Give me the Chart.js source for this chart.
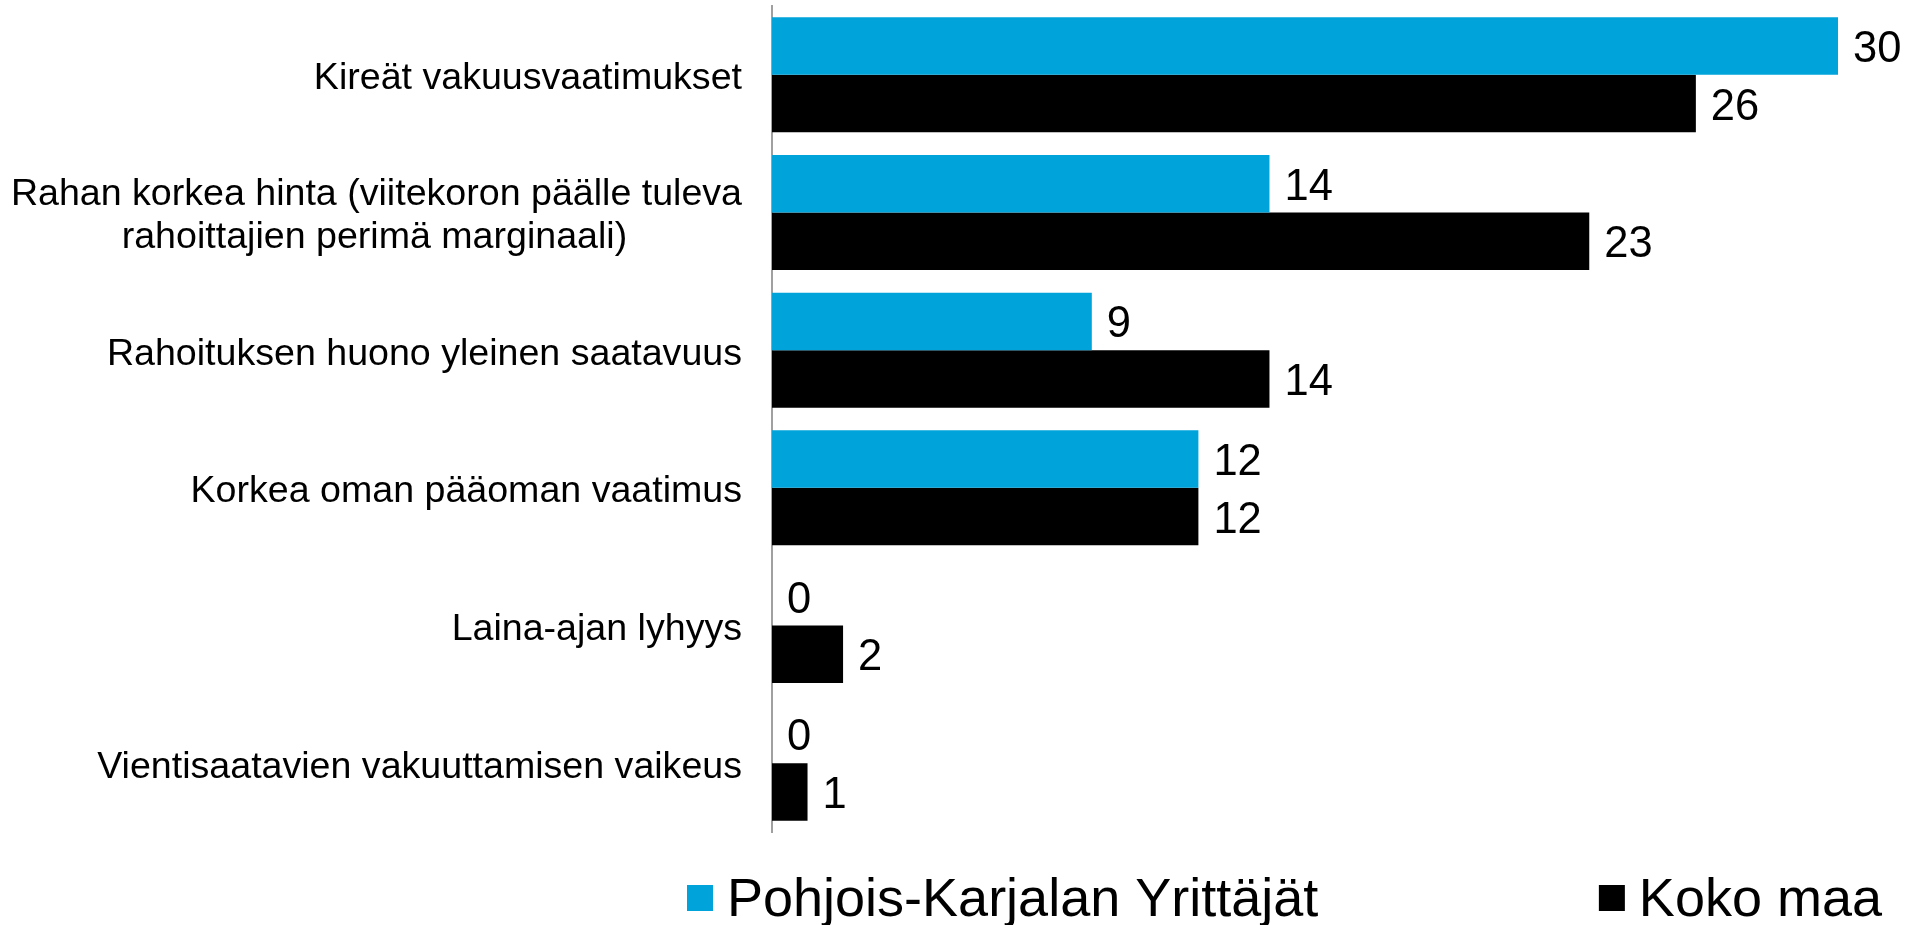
<!DOCTYPE html>
<html>
<head>
<meta charset="utf-8">
<script src="https://cdn.jsdelivr.net/npm/chart.js@4/dist/chart.umd.min.js"></script>
<style>
    html, body { margin: 0; padding: 0; background: #fff; }
    #wrap { width: 1908px; height: 925px; position: relative; }
</style>
</head>
<body>
<div id="wrap"><canvas id="obstacleChart"></canvas></div>
<script>
const categories = [
    'Kireät vakuusvaatimukset',
    ['Rahan korkea hinta (viitekoron päälle tuleva', 'rahoittajien perimä marginaali)'],
    'Rahoituksen huono yleinen saatavuus',
    'Korkea oman pääoman vaatimus',
    'Laina-ajan lyhyys',
    'Vientisaatavien vakuuttamisen vaikeus'
];
const seriesNames = ['Pohjois-Karjalan Yrittäjät', 'Koko maa'];
const pohjoisKarjala = [30, 14, 9, 12, 0, 0];
const kokoMaa = [26, 23, 14, 12, 2, 1];
const seriesColors = ['#00A3DA', '#000000'];

const FONT = '"Liberation Sans", Arial, sans-serif';
const LABEL_SIZE = 37.6;

// center the shorter line of a two-line label under the longer one (ticks are right-aligned)
const measureCtx = document.createElement('canvas').getContext('2d');
function centerLines(label) {
    if (!Array.isArray(label)) return label;
    measureCtx.font = LABEL_SIZE + 'px ' + FONT;
    let widths = label.map(l => measureCtx.measureText(l).width);
    let maxW = Math.max(...widths);
    let spaceW = measureCtx.measureText(' ').width;
    return label.map((l, i) => l + ' '.repeat(Math.round((maxW - widths[i]) / 2 / spaceW)));
}

const valueLabels = {
    id: 'valueLabels',
    afterDatasetsDraw(chart) {
        let ctx = chart.ctx;
        ctx.save();
        ctx.font = '43.5px ' + FONT;
        ctx.fillStyle = '#000';
        ctx.textAlign = 'left';
        ctx.textBaseline = 'middle';
        chart.data.datasets.forEach((ds, di) => {
            chart.getDatasetMeta(di).data.forEach((bar, i) => {
                ctx.fillText(String(ds.data[i]), bar.x + 15, bar.y + 4);
            });
        });
        ctx.restore();
    }
};

const spreadLegend = {
    id: 'spreadLegend',
    afterDraw(chart) {
        let ctx = chart.ctx;
        let ds = chart.data.datasets;
        ctx.save();
        ctx.font = '54px ' + FONT;
        ctx.textBaseline = 'middle';
        ctx.textAlign = 'left';
        let midY = 898;
        // first item from the left, second right-aligned
        ctx.fillStyle = ds[0].backgroundColor;
        ctx.fillRect(687, midY - 13, 26, 26);
        ctx.fillStyle = '#000';
        ctx.fillText(ds[0].label, 727, midY + 3);

        let w2 = ctx.measureText(ds[1].label).width;
        let x2 = 1882 - w2;
        ctx.fillStyle = ds[1].backgroundColor;
        ctx.fillRect(x2 - 40, midY - 13, 26, 26);
        ctx.fillStyle = '#000';
        ctx.fillText(ds[1].label, x2, midY + 3);
        ctx.restore();
    }
};

new Chart(document.getElementById('obstacleChart'), {
    type: 'bar',
    data: {
        labels: categories,
        datasets: [
            { label: seriesNames[0], data: pohjoisKarjala, backgroundColor: seriesColors[0] },
            { label: seriesNames[1], data: kokoMaa, backgroundColor: seriesColors[1] }
        ]
    },
    options: {
        indexAxis: 'y',
        responsive: true,
        maintainAspectRatio: false,
        animation: false,
        datasets: { bar: { categoryPercentage: 0.835, barPercentage: 1 } },
        layout: { padding: { top: 6, right: 70, bottom: 93, left: 0 } },
        plugins: {
            legend: { display: false },
            tooltip: { enabled: false }
        },
        scales: {
            x: {
                min: 0,
                max: 30,
                display: false
            },
            y: {
                grid: { display: false, drawTicks: false },
                border: { display: true, color: '#a0a0a0', width: 2 },
                ticks: {
                    color: '#000',
                    padding: 30,
                    labelOffset: 4,
                    font: { family: FONT, size: LABEL_SIZE, lineHeight: 1.15 },
                    callback: function (value) {
                        return centerLines(categories[value]);
                    }
                },
                afterFit(scale) {
                    scale.width = 772;
                    scale.paddingTop = 0;
                    scale.paddingBottom = 0;
                }
            }
        }
    },
    plugins: [valueLabels, spreadLegend]
});
</script>
</body>
</html>
